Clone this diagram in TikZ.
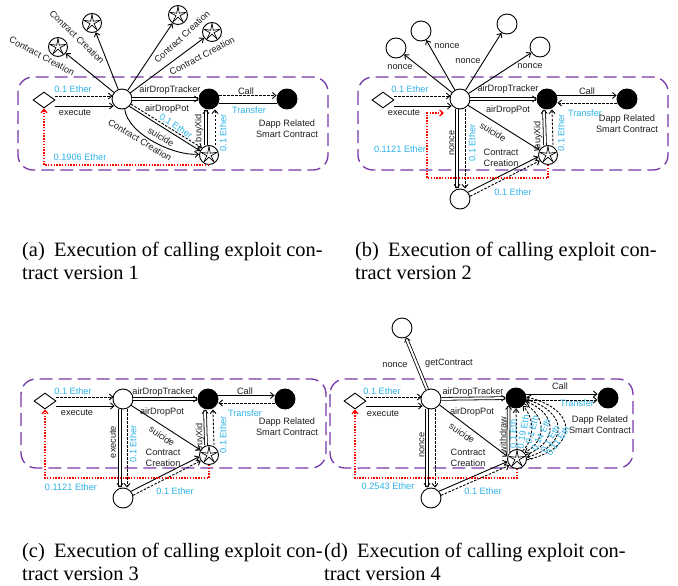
\documentclass[tikz,border=0pt]{standalone}
\usepackage{fontspec}
\setmainfont{Liberation Serif}
\newfontfamily\dfont{Liberation Sans}
\usetikzlibrary{arrows.meta,shapes.geometric}
\definecolor{ether}{RGB}{45,178,232}
\definecolor{boxc}{RGB}{118,56,168}
\definecolor{txt}{RGB}{30,30,30}
\tikzset{
  lab/.style={font=\dfont\fontsize{9.2}{11}\selectfont, text=txt, inner sep=0pt, align=center},
  elab/.style={lab, text=ether},
  wc/.style={circle, draw, fill=white, minimum size=20pt, inner sep=0pt, line width=0.9pt},
  bc/.style={wc, fill=black},
  sc/.style={wc, minimum size=19pt, path picture={
      \foreach \a in {90,162,234,306,18}{
        \draw[line width=0.7pt]
          ([shift={(\a:8.5pt)}]path picture bounding box.center) --
          ([shift={(\a+36:2.2pt)}]path picture bounding box.center) --
          ([shift={(\a+72:8.5pt)}]path picture bounding box.center);}}},
  dm/.style={diamond, draw, fill=white, minimum width=22pt, minimum height=16pt, inner sep=0pt, line width=0.9pt},
  arr/.style={line width=0.9pt, -{Straight Barb[length=3.5pt,width=6pt]}},
  pl/.style={line width=0.9pt},
  dsh/.style={arr, dash pattern=on 2.5pt off 1.5pt},
  dbl/.style={arr, double, double distance=2pt, line width=0.8pt},
  redl/.style={arr, draw=red, line width=1.2pt, dash pattern=on 1.4pt off 1.4pt},
  grp/.style={draw=boxc, line width=1.3pt, dash pattern=on 13pt off 6pt, rounded corners=15pt},
  captext/.style={font=\fontsize{20.4}{23}\selectfont, anchor=base west, inner sep=0pt},
}
\begin{document}
\begin{tikzpicture}[x=1pt, y=-1pt]
\useasboundingbox (0,0) rectangle (678,586);

%================ panel (a)
\draw[grp] (18,77) rectangle (328,170);
\node[dm] (dA) at (44,100) {};
\node[wc] (wA) at (122,99) {};
\node[bc] (bA) at (209,99) {};
\node[bc] (pA) at (287,99) {};
\node[sc] (sA) at (209,155) {};
\node[sc] (t1A) at (58,47) {};
\node[sc] (t2A) at (92,23) {};
\node[sc] (t3A) at (178,15) {};
\node[sc] (t4A) at (212,32) {};
\draw[arr] (wA) -- (t1A);
\draw[arr] (wA) -- (t2A);
\draw[arr] (wA) -- (t3A);
\draw[arr] (wA) -- (t4A);
\draw[dsh] ([yshift=4pt]dA.east) -- ([yshift=4pt]dA.east -| wA.156);
\draw[arr] ([yshift=-6pt]dA.east) -- ([yshift=-6pt]dA.east -| wA.217);
\draw[dbl] (wA) -- (bA);
\draw[dsh] ([yshift=3.5pt]bA.east) -- ([yshift=3.5pt]pA.west);
\draw[pl] ([yshift=-4pt]pA.west) -- ([yshift=-4pt]bA.east);
\draw[dsh] (wA.-30) -- (sA.135);
\draw[arr] (wA.-45) -- (sA.155);
\draw[arr] (wA.-75) .. controls +(3,25) and +(-25,2) .. (sA.175);
\draw[dbl] ([xshift=-3pt]sA.north) -- ([xshift=-3pt]bA.south);
\draw[dsh] ([xshift=6pt]sA.north) -- ([xshift=6pt]bA.south);
\draw[redl] (sA.south) -| (dA.south);
\node[elab] (a1) at (73,89) {0.1 Ether};
\node[lab] (a2) at (75,113) {execute};
\node[lab] (a3) at (170,90) {airDropTracker};
\node[lab] (a4) at (167,109) {airDropPot};
\node[lab] (a5) at (246,91) {Call};
\node[elab] (a6) at (249,110) {Transfer};
\node[lab] (a7) at (287,128.5) {Dapp Related\\Smart Contract};
\node[elab, rotate=-34] (a8) at (176,126) {0.1 Ether};
\node[lab, rotate=-31] (a9) at (161,137) {suicide};
\node[lab, rotate=-31] (a10) at (140,140) {Contract Creation};
\node[lab, rotate=90] (a11) at (199,128) {buyXid};
\node[elab, rotate=90] (a12) at (223,133) {0.1 Ether};
\node[elab] (a13) at (80,157) {0.1906 Ether};
\node[lab, rotate=-28] (a14) at (42,56) {Contract Creation};
\node[lab, rotate=-44] (a15) at (77,37) {Contract Creation};
\node[lab, rotate=43] (a16) at (182,37) {Contract Creation};
\node[lab, rotate=28] (a17) at (202,56) {Contract Creation};

%================ panel (b)
\draw[grp] (358,77) rectangle (668,170);
\node[dm] (dB) at (383,100) {};
\node[wc] (wB) at (460,99) {};
\node[bc] (bB) at (547,99) {};
\node[bc] (pB) at (627,99) {};
\node[sc] (sB) at (548,155) {};
\node[wc] (uB) at (460,199) {};
\node[wc] (t1B) at (396,48) {};
\node[wc] (t2B) at (421,31) {};
\node[wc] (t3B) at (507,24) {};
\node[wc] (t4B) at (540,47) {};
\coordinate (rB) at (444,113);
\draw[arr] (wB) -- (t1B);
\draw[arr] (wB) -- (t2B);
\draw[arr] (wB) -- (t3B);
\draw[arr] (wB) -- (t4B);
\draw[dsh] ([yshift=4pt]dB.east) -- ([yshift=4pt]dB.east -| wB.156);
\draw[arr] ([yshift=-6pt]dB.east) -- ([yshift=-6pt]dB.east -| wB.217);
\draw[dbl] (wB) -- (bB);
\draw[arr] ([yshift=3.5pt]bB.east) -- ([yshift=3.5pt]pB.west);
\draw[dsh] ([yshift=-4pt]pB.west) -- ([yshift=-4pt]bB.east);
\draw[arr] (wB.-38) -- (sB.150);
\draw[dbl] ([xshift=-3pt]wB.south) -- ([xshift=-3pt]uB.north);
\draw[dsh] ([xshift=5pt]wB.south) -- ([xshift=5pt]uB.north);
\draw[arr] (uB.40) -- (sB.190);
\draw[dsh] (uB.15) -- (sB.215);
\draw[dbl] ([xshift=-3pt]sB.north) -- ([xshift=-3pt]bB.south);
\draw[dsh] ([xshift=5pt]sB.north) -- ([xshift=5pt]bB.south);
\draw[redl] (sB.south) |- (427,178) |- (rB);
\node[elab] (b1) at (410,89) {0.1 Ether};
\node[lab] (b2) at (404,113) {execute};
\node[lab] (b3) at (400,67) {nonce};
\node[lab] (b4) at (447,46) {nonce};
\node[lab] (b5) at (468,61) {nonce};
\node[lab] (b6) at (530,66) {nonce};
\node[lab] (b7) at (508,89) {airDropTracker};
\node[lab] (b8) at (508,110) {airDropPot};
\node[lab] (b9) at (587,91) {Call};
\node[elab] (b10) at (585,113) {Transfer};
\node[lab] (b11) at (627,123.5) {Dapp Related\\Smart Contract};
\node[elab] (b12) at (400,149) {0.1121 Ether};
\node[lab, rotate=90] (b13) at (452,143) {nonce};
\node[elab, rotate=90] (b14) at (472,143) {0.1 Ether};
\node[lab, rotate=-32] (b15) at (493,132) {suicide};
\node[lab] (b16) at (501,157.5) {Contract\\Creation};
\node[lab, rotate=90] (b17) at (538,135) {buyXid};
\node[elab, rotate=90] (b18) at (561,133) {0.1 Ether};
\node[elab] (b19) at (513,192) {0.1 Ether};

%================ panel (c)
\draw[grp] (21,379) rectangle (326,468);
\node[dm] (dC) at (45,401) {};
\node[wc] (wC) at (123,399) {};
\node[bc] (bC) at (208,399) {};
\node[bc] (pC) at (285,399) {};
\node[sc] (sC) at (209,455) {};
\node[wc] (uC) at (123,498) {};
\coordinate (rC) at (45,478);
\draw[dsh] ([yshift=4pt]dC.east) -- ([yshift=4pt]dC.east -| wC.156);
\draw[arr] ([yshift=-5pt]dC.east) -- ([yshift=-5pt]dC.east -| wC.217);
\draw[dbl] (wC) -- (bC);
\draw[arr] ([yshift=3.5pt]bC.east) -- ([yshift=3.5pt]pC.west);
\draw[dsh] ([yshift=-4pt]pC.west) -- ([yshift=-4pt]bC.east);
\draw[arr] (wC.-38) -- (sC.150);
\draw[dbl] ([xshift=-3pt]wC.south) -- ([xshift=-3pt]uC.north);
\draw[dsh] ([xshift=4pt]wC.south) -- ([xshift=4pt]uC.north);
\draw[arr] (uC.40) -- (sC.190);
\draw[dsh] (uC.15) -- (sC.215);
\draw[dbl] ([xshift=-3pt]sC.north) -- ([xshift=-3pt]bC.south);
\draw[dsh] ([xshift=5pt]sC.north) -- ([xshift=5pt]bC.south);
\draw[redl] (sC.south) |- (rC) -- (dC.south);
\node[elab] (c1) at (73,391) {0.1 Ether};
\node[lab] (c2) at (77,413) {execute};
\node[lab] (c3) at (163,392) {airDropTracker};
\node[lab] (c4) at (162,412) {airDropPot};
\node[lab] (c5) at (245,391) {Call};
\node[elab] (c6) at (245,413) {Transfer};
\node[lab] (c7) at (287,426.5) {Dapp Related\\Smart Contract};
\node[lab, rotate=90] (c8) at (113,442) {execute};
\node[elab, rotate=90] (c9) at (133,444) {0.1 Ether};
\node[lab, rotate=-35] (c10) at (162,436) {suicide};
\node[lab] (c11) at (163,457.5) {Contract\\Creation};
\node[lab, rotate=90] (c12) at (200,437) {buyXid};
\node[elab, rotate=90] (c13) at (223,435) {0.1 Ether};
\node[elab] (c14) at (71,487) {0.1121 Ether};
\node[elab] (c15) at (175,491) {0.1 Ether};

%================ panel (d)
\draw[grp] (330,379) rectangle (633,468);
\node[dm] (dD) at (355,401) {};
\node[wc] (wD) at (431,399) {};
\node[bc] (bD) at (516,398) {};
\node[bc] (pD) at (608,398) {};
\node[sc] (sD) at (517,459) {};
\node[wc] (uD) at (431,498) {};
\node[wc] (tD) at (402,328) {};
\coordinate (rD) at (355,478);
\draw[dbl] (wD) -- (tD);
\draw[dsh] ([yshift=4pt]dD.east) -- ([yshift=4pt]dD.east -| wD.156);
\draw[arr] ([yshift=-5pt]dD.east) -- ([yshift=-5pt]dD.east -| wD.217);
\draw[dbl] (wD) -- (bD);
\draw[arr] ([yshift=4pt]bD.east) -- ([yshift=4pt]pD.west);
\draw[dsh] ([yshift=-2pt]bD.east) -- ([yshift=-2pt]pD.west);
\draw[arr] (wD.-35) -- (sD.165);
\draw[dbl] ([xshift=-4pt]wD.south) -- ([xshift=-4pt]uD.north);
\draw[dsh] ([xshift=4pt]wD.south) -- ([xshift=4pt]uD.north);
\draw[arr] (uD.40) -- (sD.195);
\draw[dsh] (uD.15) -- (sD.220);
\draw[dbl] (sD.150) -- (bD.225);
\draw[dsh] (sD.north) -- (bD.south);
\draw[dsh] (sD.55) .. controls +(12,-12) and +(12,12) .. (bD.-50);
\draw[dsh] (bD.-35) .. controls +(22,12) and +(22,-12) .. (sD.40);
\draw[dsh] (sD.25) .. controls +(32,-12) and +(32,12) .. (bD.-20);
\draw[dsh] (bD.-8) .. controls +(42,12) and +(42,-12) .. (sD.10);
\draw[dsh] (sD.-5) .. controls +(52,-12) and +(52,12) .. (bD.5);
\draw[redl] (sD.south) |- (rD) -- (dD.south);
\node[elab] (d1) at (382,391) {0.1 Ether};
\node[lab] (d2) at (383,414) {execute};
\node[lab] (d3) at (395,365) {nonce};
\node[lab] (d4) at (449,363) {getContract};
\node[lab] (d5) at (473,392) {airDropTracker};
\node[lab] (d6) at (472,412) {airDropPot};
\node[lab] (d7) at (560,386) {Call};
\node[elab] (d8) at (577,403) {Transfer};
\node[lab] (d9) at (600,425) {Dapp Related\\Smart Contract};
\node[lab, rotate=-35] (d10) at (462,433) {suicide};
\node[lab] (d11) at (468,457.5) {Contract\\Creation};
\node[lab, rotate=90] (d12) at (422,445) {nonce};
\node[lab, rotate=90] (d13) at (503,435) {withdraw};
\node[elab] (d14) at (388,486) {0.2543 Ether};
\node[elab] (d15) at (483,491) {0.1 Ether};
\node[elab, rotate=90] (d16) at (513,434) {0.1 Eth};
\node[elab, rotate=80] (d17) at (523,432) {0.19 Eth};
\node[elab, rotate=75] (d18) at (532,430) {0.1 Eth};
\node[elab, rotate=65] (d19) at (541,435) {0.14 Eth};
\node[elab, rotate=60] (d20) at (550,439) {0.1 Eth};
\node[elab, rotate=55] (d21) at (558,441) {0.11 Eth};

%================ captions
\node[captext] (capA1) at (22,256) {(a)\hspace{0.45em}Execution of calling exploit con-};
\node[captext] (capA2) at (22,279) {tract version 1};
\node[captext] (capB1) at (355,256) {(b)\hspace{0.45em}Execution of calling exploit con-};
\node[captext] (capB2) at (355,279) {tract version 2};
\node[captext] (capC1) at (22,557) {(c)\hspace{0.45em}Execution of calling exploit con-};
\node[captext] (capC2) at (22,580) {tract version 3};
\node[captext] (capD1) at (324,557) {(d)\hspace{0.45em}Execution of calling exploit con-};
\node[captext] (capD2) at (324,580) {tract version 4};
\end{tikzpicture}
\end{document}
